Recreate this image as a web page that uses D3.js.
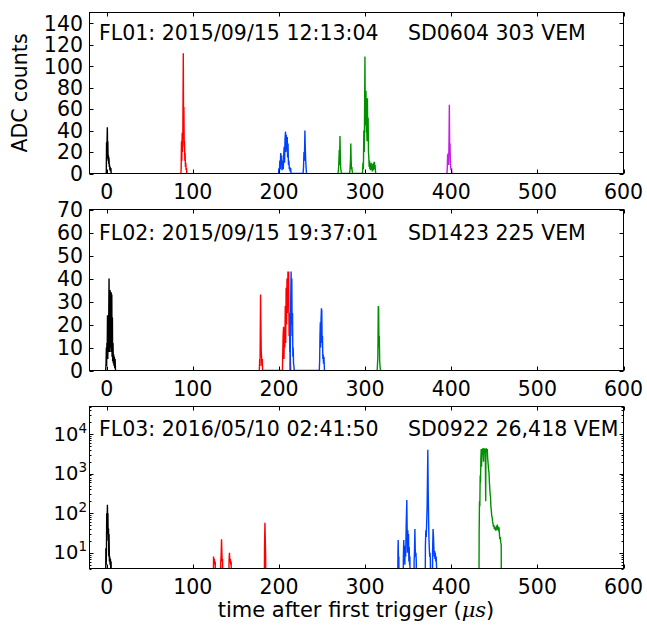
<!DOCTYPE html>
<html><head><meta charset="utf-8">
<script src="https://cdn.jsdelivr.net/npm/d3@7"></script>
<style>body{margin:0;background:#fff}svg text{font-family:"DejaVu Sans";fill:#000}</style>
</head><body><svg id="c" width="647" height="627"></svg>
<script>
// ---------- data ----------
const xTicks = [0, 100, 200, 300, 400, 500, 600];
const fl01Ticks = [0, 20, 40, 60, 80, 100, 120, 140];
const fl02Ticks = [0, 10, 20, 30, 40, 50, 60, 70];
const fl03Ticks = [10, 100, 1000, 10000];
const fl03TickExp = ["1", "2", "3", "4"];
const titlesLeft = ["FL01: 2015/09/15 12:13:04", "FL02: 2015/09/15 19:37:01", "FL03: 2016/05/10 02:41:50"];
const titlesRight = ["SD0604 303 VEM", "SD1423 225 VEM", "SD0922 26,418 VEM"];
const yLabel = "ADC counts";
const xLabel = "time after first trigger (";
const xLabelUnit = "\u03bcs";

// FL01 traces [time (us), ADC]
const fl01Black = [[-1,0],[-0.5,0],[-0.2,29],[0.1,12],[0.4,30],[0.7,43],[1,22],[1.3,30],[1.6,14],[2,17],[2.3,9],[2.6,15],[3,6],[3.3,8],[3.7,3],[4,6],[4.4,2],[4.8,5],[5.2,0]];
const fl01Red = [[86,0],[86.4,4],[86.8,30],[87.2,12],[87.6,38],[88,20],[88.4,40],[88.9,112],[89.2,45],[89.6,62],[90,25],[90.3,30],[90.7,12],[91,19],[91.4,6],[91.8,10],[92.2,3],[92.6,5],[93,0]];
const fl01Blue = [[199.5,0],[200,5],[200.5,2],[201,12],[201.5,4],[202,19],[202.5,8],[203,17],[203.5,3],[204,6],[204.5,12],[205,4],[205.5,18],[206,25],[206.5,10],[207,32],[207.6,39],[208,20],[208.5,36],[209,22],[209.6,34],[210,15],[210.5,28],[211,8],[211.5,12],[212,4],[212.5,6],[213,2],[213.5,5],[214,0],[228,0],[228.5,6],[229,20],[229.5,12],[230.1,40],[230.5,25],[231,13],[231.5,5],[232,0]];
const fl01Green = [[268.5,0],[269,3],[269.5,10],[270,22],[270.4,8],[270.8,35],[271.2,18],[271.6,6],[272,3],[272.5,0],[282,0],[282.5,4],[283,12],[283.4,28],[283.8,12],[284.2,4],[284.6,6],[285,2],[285.5,0],[297,0],[297.5,10],[298,4],[298.5,40],[299,20],[299.4,60],[299.8,109],[300.2,45],[300.6,60],[301,77],[301.4,38],[301.8,52],[302.2,30],[302.7,70],[303.1,30],[303.5,52],[303.9,20],[304.3,15],[304.7,6],[305.1,12],[305.5,4],[306,8],[306.5,3],[307,10],[307.5,4],[308,7],[308.5,2],[309,9],[309.5,3],[309.9,10],[310.3,4],[310.7,11],[311.1,5],[311.5,8],[312,2],[312.5,0]];
const fl01Magenta = [[395,0],[395.4,5],[395.8,18],[396.2,10],[396.6,19],[397,8],[397.4,30],[397.8,64],[398.2,22],[398.6,28],[399,10],[399.4,6],[399.8,3],[400.3,5],[400.8,0]];

// FL02 traces
const fl02Black = [[-1.2,0],[-0.8,3],[-0.4,10],[-0.1,2],[0.2,12],[0.5,6],[0.9,24],[1.2,5],[1.6,15],[2,8],[2.7,40],[3,12],[3.3,30],[3.6,8],[3.9,35],[4.2,10],[4.5,30],[4.8,12],[5.2,34],[5.5,8],[5.9,33],[6.2,6],[6.6,23],[6.9,4],[7.3,12],[7.7,3],[8.1,7],[8.5,2],[8.9,6],[9.3,1],[9.7,5],[10.2,0]];
const fl02Red = [[177.2,0],[177.6,5],[178,2],[178.6,33],[179,20],[179.4,8],[179.8,6],[180.2,2],[180.6,5],[181,0],[204,0],[204.4,8],[204.8,15],[205.3,19],[205.8,5],[206.3,18],[206.8,10],[207.3,28],[207.8,12],[208.3,36],[208.8,20],[209.3,40],[209.8,25],[210.4,43],[210.8,30],[211.3,43],[211.7,15],[212.1,25],[212.5,8],[212.9,10],[213.3,3],[213.7,0]];
const fl02Blue = [[212.8,0],[213.2,10],[213.6,30],[214.1,43],[214.5,20],[214.9,40],[215.3,15],[215.7,25],[216.1,6],[216.5,10],[216.9,3],[217.3,2],[217.7,0],[246.8,0],[247.2,4],[247.6,15],[248,21],[248.4,10],[248.8,22],[249.3,27],[249.7,26],[250.1,12],[250.5,15],[250.9,5],[251.3,7],[251.7,3],[252.2,6],[252.8,0]];
const fl02Green = [[314,0],[314.4,3],[314.8,6],[315.3,28],[315.7,27],[316.1,10],[316.5,15],[316.9,4],[317.3,2],[317.8,0]];

// FL03 traces (log scale; 0.1 = below threshold)
const fl03Black = [[-1.5,0.1],[-1,13],[-0.6,5],[-0.3,12],[0,100],[0.3,30],[0.8,163],[1.1,60],[1.4,100],[1.7,20],[2.1,41],[2.4,8],[2.7,30],[3.1,6],[3.5,8],[3.9,5],[4.3,7],[4.7,4],[5.1,6],[5.5,0.1]];
const fl03Red = [[123.6,0.1],[124,8],[124.5,6],[125,7],[125.5,5],[126,6],[126.6,0.1],[132,0.1],[132.4,6],[132.8,8],[133.3,22],[133.7,10],[134.1,6],[134.5,7],[135,0.1],[141.5,0.1],[142,6],[142.5,10],[143,6],[143.5,7],[144,5],[144.5,6],[145,0.1],[182.8,0.1],[183.2,13],[183.7,57],[184.1,20],[184.5,8],[185,0.1]];
const fl03Blue = [[337.8,0.1],[338.1,10],[338.4,21],[338.8,6],[339.2,8],[339.6,0.1],[344,0.1],[344.4,8],[344.9,21],[345.3,6],[345.7,12],[346.1,5],[346.6,15],[347.1,8],[347.7,50],[348.4,216],[348.8,40],[349.2,10],[349.6,37],[350,12],[350.4,30],[350.8,6],[351.2,14],[351.6,5],[352,8],[352.5,0.1],[356.5,0.1],[356.9,6],[357.3,10],[357.8,40],[358.2,12],[358.6,8],[359,10],[359.4,6],[359.8,0.1],[369.6,0.1],[370,15],[370.5,37],[371,25],[371.5,60],[372,150],[372.8,4000],[373.3,300],[373.8,50],[374.2,20],[374.6,12],[375,8],[375.4,10],[375.8,6],[376.2,0.1],[378,0.1],[378.4,12],[378.9,40],[379.4,25],[379.9,12],[380.3,8],[380.7,11],[381.1,7],[381.5,10],[382,6],[382.5,8],[383,4],[383.4,0.1]];
const fl03Green = [[432,0.1],[432.4,30],[432.8,200],[433.2,150],[433.6,900],[434,600],[434.4,2500],[434.8,4200],[435.2,1500],[435.6,4200],[436,3000],[436.5,4200],[437,4200],[437.5,2000],[438,4200],[438.5,4200],[439,3500],[439.5,4200],[440,200],[440.3,4200],[440.8,4200],[441.3,3800],[441.8,4200],[442.3,2500],[442.8,1800],[443.3,1300],[443.8,1100],[444.3,600],[444.8,400],[445.2,300],[445.6,260],[446,150],[446.5,120],[447,85],[447.5,80],[448,60],[448.5,55],[449,46],[449.5,50],[450,40],[450.5,45],[451,38],[451.5,42],[452,36],[452.5,48],[453,40],[453.5,52],[454,38],[454.5,46],[455,35],[455.5,44],[456,28],[456.5,22],[457,25],[457.5,18],[458,16],[458.4,0.1]];

const colors = {black:"#000000", red:"#ff0000", blue:"#0040ff", green:"#009000", magenta:"#c41fe0"};

// ---------- layout ----------
const svg = d3.select("#c");
const L = 89.5, R = 623.5;
const FS = 20.5;
const x = d3.scaleLinear().domain([-20, 600]).range([L, R]);

const panels = [
  {top:12.5, bottom:173.5, type:"lin", domain:[0,150], ticks:fl01Ticks, tBase:40,
   traces:[[fl01Black,"black"],[fl01Red,"red"],[fl01Blue,"blue"],[fl01Green,"green"],[fl01Magenta,"magenta"]]},
  {top:209.5, bottom:370.5, type:"lin", domain:[0,70], ticks:fl02Ticks, tBase:240,
   traces:[[fl02Black,"black"],[fl02Red,"red"],[fl02Blue,"blue"],[fl02Green,"green"]]},
  {top:406.5, bottom:568.5, type:"log", domain:[4,50000], ticks:fl03Ticks, tBase:436,
   traces:[[fl03Black,"black"],[fl03Red,"red"],[fl03Blue,"blue"],[fl03Green,"green"]]}
];

panels.forEach((p, i) => {
  const y = (p.type === "log" ? d3.scaleLog() : d3.scaleLinear()).domain(p.domain).range([p.bottom, p.top]);
  const g = svg.append("g");
  const cid = "clip" + i;
  svg.append("clipPath").attr("id", cid).append("rect")
    .attr("x", L).attr("y", p.top).attr("width", R - L).attr("height", p.bottom - p.top);

  const line = d3.line().x(d => x(d[0])).y(d => y(d[1]));
  const tg = g.append("g").attr("clip-path", `url(#${cid})`);
  p.traces.forEach(([data, c]) => {
    tg.append("path").attr("d", line(data)).attr("fill", "none")
      .attr("stroke", colors[c]).attr("stroke-width", 1.4).attr("stroke-linejoin", "miter");
  });

  // frame
  g.append("rect").attr("x", L).attr("y", p.top).attr("width", R - L).attr("height", p.bottom - p.top)
    .attr("fill", "none").attr("stroke", "#000").attr("stroke-width", 1);

  // x ticks (bottom and top, inward)
  xTicks.forEach(t => {
    const xp = Math.round(x(t)) + 0.5;
    g.append("line").attr("x1", xp).attr("x2", xp).attr("y1", p.bottom).attr("y2", p.bottom - 4).attr("stroke", "#000");
    g.append("line").attr("x1", xp).attr("x2", xp).attr("y1", p.top).attr("y2", p.top + 4).attr("stroke", "#000");
    g.append("text").attr("x", x(t)).attr("y", p.bottom + 25.5).attr("text-anchor", "middle")
      .attr("font-size", FS).text(t);
  });

  // y ticks
  p.ticks.forEach((t, k) => {
    const yp = Math.round(y(t)) + 0.5;
    g.append("line").attr("x1", L).attr("x2", L + 4).attr("y1", yp).attr("y2", yp).attr("stroke", "#000");
    g.append("line").attr("x1", R).attr("x2", R - 4).attr("y1", yp).attr("y2", yp).attr("stroke", "#000");
    if (p.type === "lin") {
      g.append("text").attr("x", 83).attr("y", y(t)).attr("dy", "0.36em").attr("text-anchor", "end")
        .attr("font-size", FS).text(t);
    } else {
      const tx = g.append("text").attr("x", 87).attr("y", y(t) + 6.5).attr("text-anchor", "end").attr("font-size", 19.5);
      tx.append("tspan").text("10");
      tx.append("tspan").attr("dy", -8).attr("font-size", 13.5).text(fl03TickExp[k]);
    }
  });
  if (p.type === "log") {
    const minors = [];
    for (let e = 0; e <= 4; e++) for (let m = 2; m <= 9; m++) {
      const v = m * Math.pow(10, e);
      if (v >= p.domain[0] && v <= p.domain[1]) minors.push(v);
    }
    minors.forEach(v => {
      const yp = Math.round(y(v)) + 0.5;
      g.append("line").attr("x1", L).attr("x2", L + 2).attr("y1", yp).attr("y2", yp).attr("stroke", "#000");
      g.append("line").attr("x1", R).attr("x2", R - 2).attr("y1", yp).attr("y2", yp).attr("stroke", "#000");
    });
  }

  // panel annotations
  g.append("text").attr("x", 99).attr("y", p.tBase).attr("font-size", FS).text(titlesLeft[i]);
  g.append("text").attr("x", 408).attr("y", p.tBase).attr("font-size", FS).text(titlesRight[i]);
});

// axis labels
svg.append("text").attr("transform", "translate(27,93) rotate(-90)").attr("text-anchor", "middle")
  .attr("font-size", FS).text(yLabel);
const xl = svg.append("text").attr("x", 356).attr("y", 617).attr("text-anchor", "middle").attr("font-size", 21);
xl.append("tspan").text(xLabel);
xl.append("tspan").attr("font-family", "DejaVu Serif").attr("font-style", "italic").text(xLabelUnit);
xl.append("tspan").text(")");
</script></body></html>
